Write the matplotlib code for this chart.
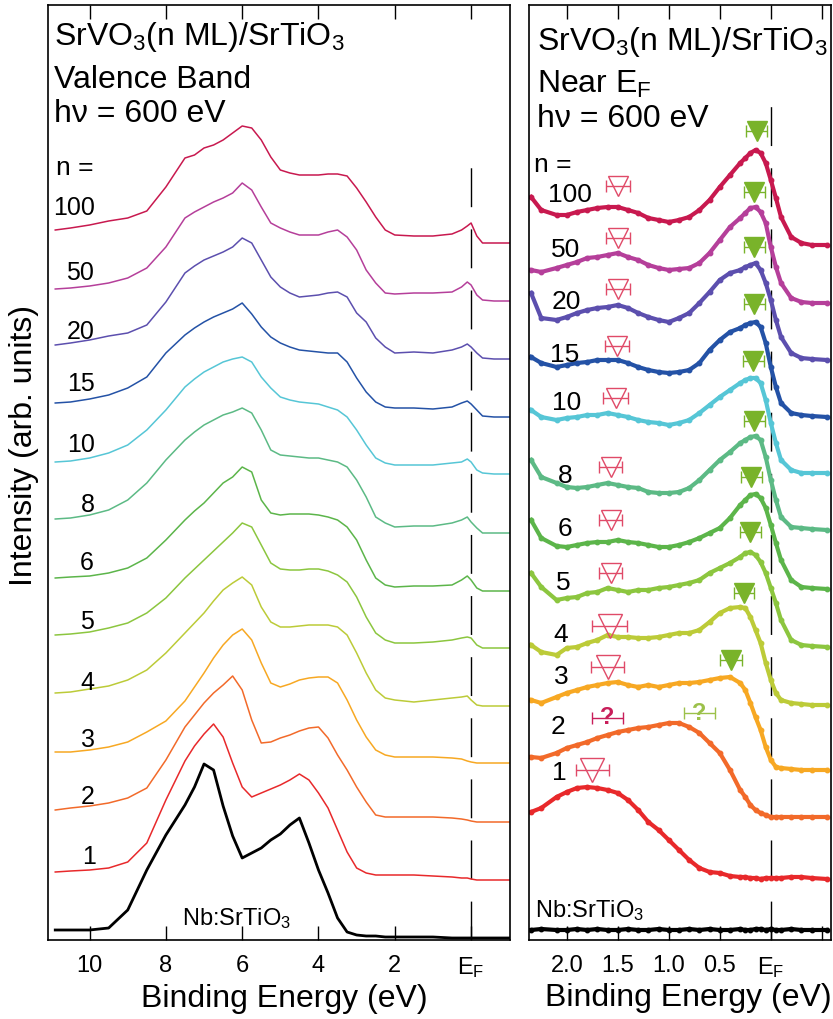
"""Valence band and near-E_F photoemission spectra of SrVO3(n ML)/SrTiO3.

Two panels: full valence band (left) and a zoom on the region near E_F (right).
Spectra are stacked with a fixed offset per thickness n.
"""

import matplotlib

matplotlib.use("Agg")
import matplotlib.pyplot as plt

plt.rcParams["font.family"] = ["Liberation Sans", "DejaVu Sans"]
plt.rcParams["mathtext.fontset"] = "custom"
plt.rcParams["mathtext.rm"] = "Liberation Sans"
plt.rcParams["mathtext.it"] = "Liberation Sans:italic"

W_PX, H_PX = 833, 1019

THICKNESS = ["100", "50", "20", "15", "10", "8", "6", "5", "4", "3", "2", "1"]
COLORS = ["#c8194f", "#b53f9a", "#5c4fae", "#2452a6", "#56c6d6", "#5cba85",
          "#5cb54a", "#8cc63f", "#bccb38", "#f7a823", "#f26a2a", "#e8292b"]

# ---- valence band, hv = 600 eV ----
E_VB = [10.9, 10.5, 10.0, 9.5, 9.0, 8.5, 8.0, 7.5, 7.25, 7.0, 6.75, 6.5, 6.25,
        6.0, 5.75, 5.5, 5.25, 5.0, 4.75, 4.5, 4.25, 4.0, 3.75, 3.5, 3.25, 3.0,
        2.75, 2.5, 2.25, 2.0, 1.5, 1.0, 0.5, 0.25, 0.1, 0.0, -0.15, -0.3,
        -0.6, -1.0]

VB_100 = [13, 15, 18, 22, 25, 32, 56, 85, 88, 95, 98, 103, 110, 117, 115, 103,
          86, 73, 70, 68, 68, 68, 69, 69, 67, 55, 41, 26, 13, 8, 7, 7, 9, 13,
          17, 20, 7, 0, 0, 0]
VB_50 = [12, 13, 15, 18, 23, 33, 54, 83, 89, 94, 99, 103, 108, 118, 111, 94,
         78, 73, 69, 66, 66, 66, 69, 71, 64, 51, 31, 18, 8, 7, 8, 8, 9, 14, 19,
         16, 6, 1, 0, 0]
VB_20 = [14, 16, 19, 23, 26, 34, 57, 86, 93, 99, 103, 107, 112, 121, 116, 99,
         82, 72, 66, 62, 63, 64, 66, 67, 62, 46, 37, 21, 12, 6, 7, 6, 9, 12,
         15, 12, 6, 1, 0, 0]
VB_15 = [14, 15, 18, 22, 29, 40, 64, 82, 89, 95, 100, 104, 108, 114, 103, 90,
         80, 74, 70, 67, 66, 65, 64, 64, 55, 39, 25, 15, 10, 9, 9, 8, 10, 14,
         16, 13, 7, 1, 0, 0]
VB_10 = [12, 13, 16, 21, 29, 44, 64, 87, 95, 102, 107, 112, 115, 117, 112, 97,
         86, 77, 74, 72, 71, 70, 67, 64, 57, 44, 29, 16, 11, 9, 9, 9, 11, 12,
         15, 12, 4, 1, 0, 0]
VB_8 = [14, 15, 18, 23, 33, 50, 73, 93, 101, 108, 113, 118, 121, 125, 120, 103,
        83, 78, 77, 76, 75, 75, 73, 71, 66, 53, 36, 16, 10, 6, 7, 7, 10, 13,
        16, 11, 5, 0, 0, 0]
VB_6 = [13, 14, 15, 18, 23, 33, 51, 71, 80, 88, 98, 108, 114, 124, 119, 91,
        78, 76, 77, 77, 77, 76, 74, 71, 64, 51, 31, 13, 6, 4, 5, 5, 6, 11, 15,
        11, 3, 0, 0, 0]
VB_5 = [13, 14, 16, 20, 25, 35, 50, 70, 79, 88, 97, 106, 115, 125, 121, 103,
        85, 79, 78, 78, 79, 79, 77, 73, 66, 51, 31, 15, 8, 5, 5, 6, 8, 10, 11,
        10, 3, 0, 0, 0]
VB_4 = [13, 14, 17, 20, 26, 36, 53, 73, 83, 93, 105, 116, 123, 129, 121, 99,
        84, 79, 79, 80, 81, 81, 81, 79, 71, 53, 33, 16, 8, 6, 4, 6, 8, 9, 10,
        6, 1, 0, 0, 0]
VB_3 = [11, 11, 13, 16, 21, 31, 42, 62, 76, 90, 105, 118, 128, 134, 123, 100,
        80, 76, 79, 83, 85, 86, 86, 80, 63, 43, 26, 13, 8, 6, 6, 6, 5, 4, 2, 1,
        0, 0, 0, 0]
VB_2 = [12, 14, 16, 19, 24, 34, 62, 95, 107, 119, 129, 137, 146, 132, 102, 79,
        80, 84, 87, 91, 94, 95, 84, 67, 52, 35, 20, 7, 5, 5, 5, 5, 4, 3, 2, 1,
        0, 0, 0, 0]
VB_1 = [8, 9, 10, 12, 18, 37, 80, 119, 134, 146, 156, 143, 117, 93, 83, 87,
        91, 95, 100, 106, 100, 87, 72, 50, 28, 12, 7, 5, 5, 5, 5, 4, 3, 2, 2, 1,
        0, 0, 0, 0]
VB_NB = [8, 8, 8, 10, 28, 68, 103, 133, 151, 174, 168, 132, 102, 80, 85, 90,
         98, 104, 113, 120, 95, 68, 45, 20, 6, 3, 2, 2, 1, 1, 1, 1, 0, 0, 0, 0,
         0, 0, 0, 0]
VB_OFFSETS = [697, 639, 581, 523, 466, 407, 349, 292, 234, 177, 118, 60, 2]

# ---- near E_F ----
E_NEF = [2.35, 2.25, 2.1, 2.0, 1.9, 1.8, 1.7, 1.6, 1.5, 1.4, 1.3, 1.2, 1.1,
         1.0, 0.9, 0.8, 0.7, 0.6, 0.5, 0.4, 0.3, 0.25, 0.2, 0.15, 0.1, 0.05,
         0.0, -0.05, -0.1, -0.2, -0.3, -0.4, -0.55]

NEF_100 = [48, 35, 30, 30, 33, 35, 37, 38, 38, 35, 32, 27, 25, 23, 25, 28, 35,
           45, 58, 70, 82, 87, 92, 95, 92, 82, 65, 47, 28, 8, 2, 0, 0]
NEF_50 = [33, 31, 35, 38, 41, 45, 46, 48, 50, 46, 43, 38, 35, 33, 34, 35, 40,
          50, 63, 76, 85, 90, 95, 96, 91, 80, 56, 36, 20, 5, 1, 0, 0]
NEF_20 = [67, 42, 40, 43, 47, 50, 52, 53, 55, 52, 47, 43, 40, 38, 42, 47, 57,
          68, 80, 87, 90, 93, 95, 97, 90, 77, 60, 40, 23, 7, 2, 1, 0]
NEF_15 = [60, 54, 50, 52, 54, 55, 57, 57, 57, 54, 50, 47, 45, 44, 45, 47, 54,
          67, 77, 85, 89, 92, 94, 95, 90, 74, 50, 30, 14, 4, 2, 1, 0]
NEF_10 = [63, 56, 53, 55, 56, 58, 58, 60, 58, 56, 53, 51, 50, 48, 50, 53, 60,
          68, 76, 83, 90, 93, 95, 95, 90, 73, 50, 30, 13, 3, 0, 0, 0]
NEF_8 = [70, 53, 47, 43, 42, 43, 45, 47, 45, 43, 42, 38, 37, 37, 38, 42, 50,
         60, 70, 78, 87, 90, 93, 94, 90, 73, 50, 30, 13, 3, 2, 1, 0]
NEF_6 = [69, 51, 43, 42, 44, 46, 47, 47, 49, 47, 46, 44, 42, 42, 44, 47, 51,
         56, 61, 71, 84, 89, 94, 95, 91, 81, 64, 46, 29, 9, 2, 1, 0]
NEF_5 = [74, 60, 47, 49, 50, 54, 55, 59, 57, 55, 57, 57, 59, 60, 62, 64, 67,
         74, 79, 84, 90, 94, 95, 92, 85, 74, 59, 44, 27, 7, 2, 1, 0]
NEF_4 = [60, 53, 50, 57, 58, 62, 65, 70, 68, 68, 67, 67, 68, 70, 72, 72, 75,
         83, 92, 97, 98, 97, 88, 75, 62, 42, 25, 12, 5, 2, 1, 0, 0]
NEF_3 = [70, 67, 73, 77, 80, 83, 85, 87, 88, 85, 83, 85, 83, 85, 87, 87, 88,
         90, 92, 93, 87, 80, 67, 53, 40, 23, 10, 3, 2, 1, 0, 0, 0]
NEF_2 = [60, 59, 64, 69, 72, 75, 79, 82, 85, 87, 89, 90, 92, 94, 94, 90, 84,
         74, 64, 47, 27, 20, 12, 7, 4, 2, 0, 0, 0, 0, 0, 0, 0]
NEF_1 = [66, 70, 81, 86, 90, 91, 90, 88, 85, 78, 68, 56, 48, 38, 28, 18, 10,
         6, 5, 2, 1, 1, 0, 0, -1, 0, 0, 0, 0, 1, 1, 0, -1]
NEF_NB = [0, 1, 0, 0, 1, 0, 1, 0, 0, 1, 0, 0, 1, 0, 0, 1, 0, 1, 0, 0, 1, 0, 0,
          1, 1, 0, 1, 0, 0, 1, 0, 0, 0]
NEF_OFFSETS = [695, 637, 580, 523, 467, 410, 351, 293, 235, 170, 123, 62, 10]

# coherent peak (filled) and incoherent feature (open) positions, n = 100 ... 3
COH_E = [0.14, 0.16, 0.16, 0.16, 0.17, 0.16, 0.19, 0.20, 0.26, 0.39]
COH_Y = [809, 748, 693, 636, 579, 519, 463, 408, 347, 280]
COH_ERR = [0.10, 0.10, 0.10, 0.10, 0.10, 0.10, 0.10, 0.10, 0.10, 0.105]
INC_E = [1.50, 1.50, 1.50, 1.51, 1.52, 1.57, 1.57, 1.57, 1.58, 1.60, 1.75]
INC_Y = [754, 702, 651, 594, 542, 473, 420, 367, 314, 273, 170]
INC_ERR = [0.12, 0.12, 0.12, 0.12, 0.12, 0.11, 0.11, 0.11, 0.17, 0.16, 0.16]
# n = 2: uncertain assignments (incoherent, coherent)
UNSURE_E = [1.60, 0.70]
UNSURE_Y = [222, 227]
UNSURE_ERR = [0.155, 0.155]

VB_CURVES = [VB_100, VB_50, VB_20, VB_15, VB_10, VB_8, VB_6, VB_5, VB_4,
             VB_3, VB_2, VB_1, VB_NB]
NEF_CURVES = [NEF_100, NEF_50, NEF_20, NEF_15, NEF_10, NEF_8, NEF_6, NEF_5,
              NEF_4, NEF_3, NEF_2, NEF_1, NEF_NB]

RED = "#e04a68"
RED_Q = "#c81e5a"
GREEN = "#79b32a"
GREEN_Q = "#9cc14a"


def fxy(x, y):
    """Pixel position -> figure fraction."""
    return x / W_PX, 1 - y / H_PX


def ftext(x, y, s, **kw):
    fx, fy = fxy(x, y)
    fig.text(fx, fy, s, **kw)


def style_axis(ax, xlim, ticks, labels):
    ax.set_xlim(*xlim)
    ax.set_ylim(0, 935)
    ax.set_xticks(ticks)
    ax.set_xticklabels(labels)
    ax.set_yticks([])
    ax.tick_params(axis="x", direction="in", top=True, length=10, width=1,
                   labelsize=17, pad=11)
    for sp in ax.spines.values():
        sp.set_linewidth(1.2)


fig = plt.figure(figsize=(W_PX / 100, H_PX / 100), dpi=100)
ax_vb = fig.add_axes([48 / W_PX, 79 / H_PX, 462 / W_PX, 935 / H_PX])
ax_ef = fig.add_axes([529 / W_PX, 79 / H_PX, 302 / W_PX, 935 / H_PX])

# left panel
ax_vb.plot([0, 0], [0, 780], color="black", lw=1.0, ls=(0, (28, 16)), zorder=1)
for i, ys in enumerate(VB_CURVES):
    base = VB_OFFSETS[i]
    color = COLORS[i] if i < len(COLORS) else "black"
    lw = 1.1 if i < len(COLORS) else 2.0
    ax_vb.plot(E_VB, [v + base for v in ys], color=color, lw=lw, zorder=2)
style_axis(ax_vb, (11.09, -1.02), [10, 8, 6, 4, 2, 0],
           ["10", "8", "6", "4", "2", r"E$_\mathrm{F}$"])

# right panel
ax_ef.plot([0, 0], [0, 840], color="black", lw=1.0, ls=(0, (28, 16)), zorder=1)
for i, ys in enumerate(NEF_CURVES):
    base = NEF_OFFSETS[i]
    color = COLORS[i] if i < len(COLORS) else "black"
    ax_ef.plot(E_NEF, [v + base for v in ys], color=color, lw=3.0,
               marker="o", ms=3.2, zorder=2)
style_axis(ax_ef, (2.37, -0.59), [2.0, 1.5, 1.0, 0.5, 0.0, -0.5],
           ["2.0", "1.5", "1.0", "0.5", r"E$_\mathrm{F}$", ""])

ax_ef.errorbar(COH_E, COH_Y, xerr=COH_ERR, fmt="v", ms=14, color=GREEN,
               ecolor=GREEN, elinewidth=1, capsize=4, capthick=1, zorder=4)
for i, (e, y) in enumerate(zip(INC_E, INC_Y)):
    ms = 14 if i < 8 else 17
    ax_ef.errorbar([e], [y], xerr=[INC_ERR[i]], fmt="v", ms=ms, mfc="none",
                   mec=RED, mew=1, ecolor=RED, elinewidth=1, capsize=4,
                   capthick=1, zorder=4)
for e, y, err, c in zip(UNSURE_E, UNSURE_Y, UNSURE_ERR, [RED_Q, GREEN_Q]):
    ax_ef.errorbar([e], [y], xerr=[err], fmt="none", ecolor=c, elinewidth=1,
                   capsize=4, capthick=1, zorder=4)
    ax_ef.text(e, y, "?", color=c, fontsize=17, fontweight="bold",
               ha="center", va="center", zorder=5)

# headers
for x0, second, dy in [(54, "Valence Band", 0), (537, r"Near E$_\mathrm{F}$", 5)]:
    ftext(x0, 45 + dy, r"SrVO$_3$(n ML)/SrTiO$_3$", fontsize=23)
    ftext(x0, 88 + dy, second, fontsize=23)
    ftext(x0, 122 + dy, "hν = 600 eV", fontsize=23)

ftext(75, 168, "n =", fontsize=19, ha="center", va="center")
ftext(553, 165, "n =", fontsize=19, ha="center", va="center")

VB_LABEL_XY = [(74, 208), (80, 273), (81, 332), (81, 384), (81, 445),
               (88, 505), (87, 563), (87, 622), (87, 683), (88, 740),
               (88, 797), (89, 857)]
NEF_LABEL_XY = [(570, 195), (566, 250), (566, 302), (565, 355), (567, 403),
                (565, 476), (565, 529), (563, 583), (561, 635), (561, 677),
                (558, 727), (559, 773)]
for lab, (x, y) in zip(THICKNESS, VB_LABEL_XY):
    ftext(x, y, lab, fontsize=18, ha="center", va="center")
for lab, (x, y) in zip(THICKNESS, NEF_LABEL_XY):
    ftext(x, y, lab, fontsize=19, ha="center", va="center")

ftext(182, 925, r"Nb:SrTiO$_3$", fontsize=17)
ftext(535, 917, r"Nb:SrTiO$_3$", fontsize=17)

ftext(284, 1007, "Binding Energy (eV)", fontsize=23, ha="center")
ftext(688, 1006, "Binding Energy (eV)", fontsize=23, ha="center")
ftext(24, 445, "Intensity (arb. units)", fontsize=23, rotation=90,
      ha="center", va="center")

fig.savefig("out.png", dpi=100)
